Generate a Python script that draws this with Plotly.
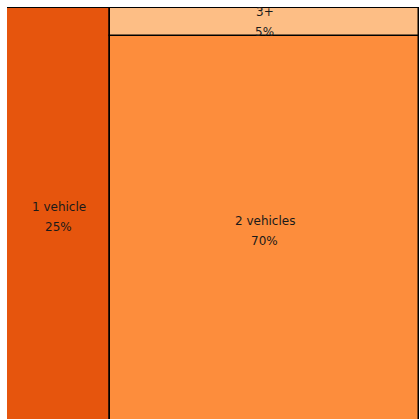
import plotly.graph_objects as go

# Household vehicle ownership shares (percent)
categories = ["1 vehicle", "2 vehicles", "3+"]
shares = [25, 70, 5]
colors = ["#e6550d", "#fd8d3c", "#fdbe85"]

# Column layout: "1 vehicle" fills the left column; the rest stack in the right column
left_w = shares[0] / 100
right_w = 1 - left_w
right_total = shares[1] + shares[2]

rects = [(left_w / 2, left_w, 0.0, 1.0)]  # (center x, width, base, height)
base = 0.0
for val in shares[1:]:
    h = val / right_total
    rects.append((left_w + right_w / 2, right_w, base, h))
    base += h

fig = go.Figure()
annotations = []
font = dict(family="DejaVu Sans", size=12, color="#1a1a1a")
for (cx, w, b, h), name, val, col in zip(rects, categories, shares, colors):
    fig.add_trace(go.Bar(
        x=[cx], y=[h], width=[w], base=[b],
        marker=dict(color=col, line=dict(color="black", width=1.5)),
        hoverinfo="skip", showlegend=False,
    ))
    cy = b + h / 2
    annotations.append(dict(x=cx, y=cy, text=name, showarrow=False,
                            yshift=10, font=font, xref="x", yref="y"))
    annotations.append(dict(x=cx, y=cy, text=f"{val}%", showarrow=False,
                            yshift=-10, font=font, xref="x", yref="y"))

fig.update_layout(
    width=419, height=419,
    margin=dict(l=7, r=0, t=7, b=0),
    paper_bgcolor="white", plot_bgcolor="white",
    barmode="overlay", bargap=0,
    annotations=annotations,
    xaxis=dict(range=[-0.001, 0.999], visible=False, fixedrange=True),
    yaxis=dict(range=[1 - 412 / 420, 1.0015], visible=False, fixedrange=True),
)

fig.write_html("out.html")
